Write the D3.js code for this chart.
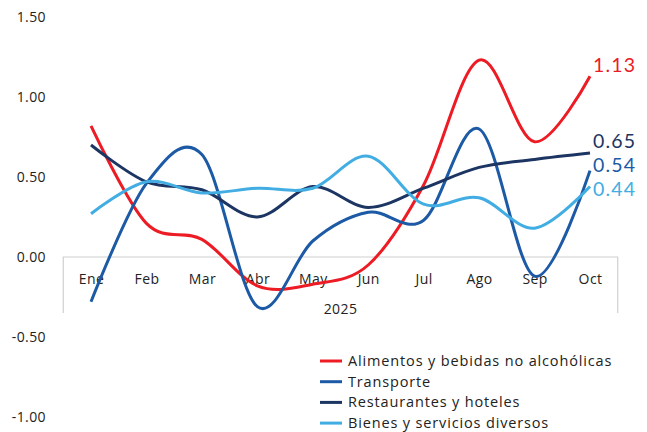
<!DOCTYPE html>
<html>
<head>
<meta charset="utf-8">
<script src="https://cdn.jsdelivr.net/npm/d3@7"></script>
<style>
  body { margin: 0; background: #fff; }
  text { font-family: "Open Sans", "Noto Sans", sans-serif; fill: #222; letter-spacing: 0.4px; }
</style>
</head>
<body>
<div id="chart"></div>
<script>
// data
var months = ["Ene", "Feb", "Mar", "Abr", "May", "Jun", "Jul", "Ago", "Sep", "Oct"];
var alimentos = [0.82, 0.21, 0.11, -0.18, -0.17, -0.05, 0.45, 1.23, 0.72, 1.13];
var transporte = [-0.28, 0.46, 0.64, -0.31, 0.10, 0.28, 0.23, 0.80, -0.12, 0.54];
var restaurantes = [0.70, 0.47, 0.42, 0.25, 0.44, 0.31, 0.43, 0.56, 0.61, 0.65];
var bienes = [0.27, 0.47, 0.40, 0.43, 0.43, 0.63, 0.33, 0.37, 0.18, 0.44];
var yTicks = [1.5, 1.0, 0.5, 0.0, -0.5, -1.0];
var year = "2025";

var series = [
  { name: "Alimentos y bebidas no alcohólicas", values: alimentos, color: "#ed1c24", labelY: 65 },
  { name: "Transporte", values: transporte, color: "#1c5aa6", labelY: 165 },
  { name: "Restaurantes y hoteles", values: restaurantes, color: "#1c3562", labelY: 141 },
  { name: "Bienes y servicios diversos", values: bienes, color: "#41ade2", labelY: 189 }
];

var svgWidth = 647, svgHeight = 432;
var fmt = v => d3.format(".2f")(v).replace("\u2212", "-");

var svg = d3.select("#chart").append("svg")
  .attr("width", svgWidth)
  .attr("height", svgHeight);

// scales
var x = d3.scalePoint().domain(months).range([91, 590]);
var y = d3.scaleLinear().domain([-1, 1.5]).range([417, 17]);

var left = x.range()[0] - x.step() / 2;
var right = x.range()[1] + x.step() / 2;

// y tick labels (no axis line in the reference)
svg.append("g").selectAll("text")
  .data(yTicks)
  .enter().append("text")
  .attr("x", 46)
  .attr("y", d => y(d))
  .attr("dy", "0.35em")
  .attr("text-anchor", "end")
  .style("font-size", "14px")
  .text(fmt);

// category box at zero
var boxBottom = 313;
svg.append("path")
  .attr("d", `M${left},${boxBottom}V${y(0)}H${right}V${boxBottom}`)
  .attr("fill", "none")
  .attr("stroke", "#d0d0d0")
  .attr("stroke-width", 1.2);

var xAxis = d3.axisBottom(x).tickSize(0).tickPadding(0);
var gx = svg.append("g")
  .attr("transform", `translate(0, ${y(0)})`)
  .call(xAxis);
gx.select(".domain").remove();
gx.selectAll("text")
  .attr("y", 22)
  .attr("dy", "0.35em")
  .style("font-size", "14px")
  .style("font-family", "'Open Sans', 'Noto Sans', sans-serif")
  .attr("fill", "#222");

svg.append("text")
  .attr("x", (left + right) / 2)
  .attr("y", 309)
  .attr("dy", "0.35em")
  .attr("text-anchor", "middle")
  .style("font-size", "14px")
  .text(year);

// smoothed lines
var line = d3.line()
  .x((d, i) => x(months[i]))
  .y(d => y(d))
  .curve(d3.curveCardinal.tension(0));

svg.append("g").selectAll("path")
  .data(series)
  .enter().append("path")
  .attr("d", d => line(d.values))
  .attr("fill", "none")
  .attr("stroke", d => d.color)
  .attr("stroke-width", 3);

// end labels
svg.append("g").selectAll("text")
  .data(series)
  .enter().append("text")
  .attr("x", x(months[months.length - 1]) + 3)
  .attr("y", d => d.labelY)
  .attr("dy", "0.35em")
  .style("font-family", "Lato, sans-serif")
  .style("font-size", "19.5px")
  .style("letter-spacing", "1.2px")
  .style("fill", d => d.color)
  .text(d => fmt(d.values[d.values.length - 1]));

// legend
var legend = svg.append("g").attr("transform", "translate(320, 361)");
var rows = legend.selectAll("g")
  .data(series)
  .enter().append("g")
  .attr("transform", (d, i) => `translate(0, ${i * 20.7})`);
rows.append("line")
  .attr("x1", 0).attr("x2", 22)
  .attr("stroke", d => d.color)
  .attr("stroke-width", 3);
rows.append("text")
  .attr("x", 28)
  .attr("dy", "0.35em")
  .style("font-size", "14.5px")
  .style("letter-spacing", "0.85px")
  .text(d => d.name);
</script>
</body>
</html>
